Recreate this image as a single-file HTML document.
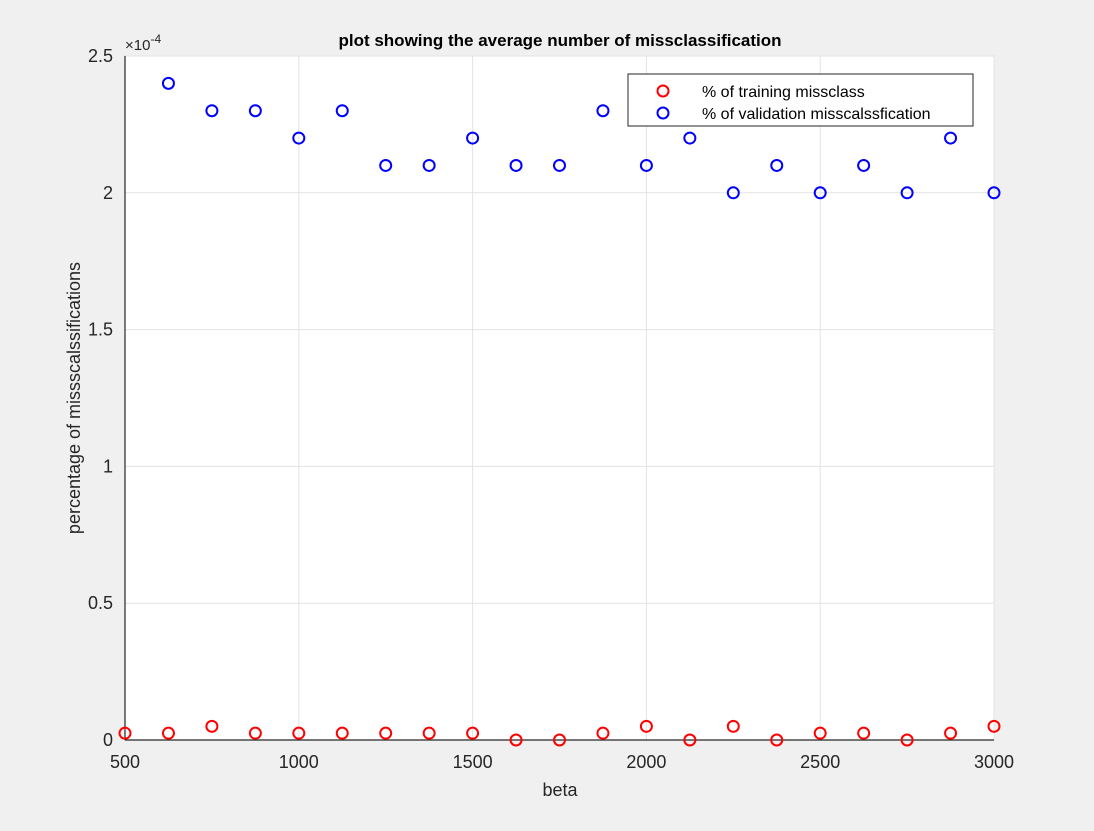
<!DOCTYPE html>
<html><head><meta charset="utf-8"><style>
body{margin:0;background:#f0f0f0;font-family:"Liberation Sans",sans-serif;}
svg text{font-family:"Liberation Sans",sans-serif;}
</style></head><body>
<svg id="chart" width="1094" height="826">
<rect x="0" y="0" width="1094" height="826" fill="#f0f0f0"/>
<rect x="125" y="56" width="869" height="684" fill="#fff" stroke="#d0d0d0" stroke-width="1"/>
<g id="grid"></g>
<line x1="125" y1="56" x2="125" y2="740" stroke="#262626" stroke-width="1.2"/>
<line x1="125" y1="740" x2="994" y2="740" stroke="#262626" stroke-width="1.2"/>
<g id="axes"></g><g id="marks"></g>
<text x="560" y="46" text-anchor="middle" font-size="17" font-weight="bold" fill="#000">plot showing the average number of missclassification</text>
<text x="560" y="796" text-anchor="middle" font-size="18" fill="#262626">beta</text>
<text transform="translate(80,398) rotate(-90)" text-anchor="middle" font-size="18" fill="#262626">percentage of missscalssifications</text>
<text x="125" y="50" font-size="15" fill="#262626">×10<tspan dy="-7" font-size="12">-4</tspan></text>
<g id="legend">
<rect x="628" y="74" width="345" height="52" fill="#fff" stroke="#262626"/>
<circle cx="663" cy="91" r="5.5" fill="none" stroke="#f00" stroke-width="2"/>
<text x="702" y="97" font-size="16" fill="#000">% of training missclass</text>
<circle cx="663" cy="113" r="5.5" fill="none" stroke="#00f" stroke-width="2"/>
<text x="702" y="119" font-size="16" fill="#000">% of validation misscalssfication</text>
</g>
</svg>
<script>
const xTicks=[500,1000,1500,2000,2500,3000];
const yTicks=[0,0.5,1,1.5,2,2.5];
const yTickLabels=["0","0.5","1","1.5","2","2.5"];
const validationX=[625,750,875,1000,1125,1250,1375,1500,1625,1750,1875,2000,2125,2250,2375,2500,2625,2750,2875,3000];
const validationY=[2.4,2.3,2.3,2.2,2.3,2.1,2.1,2.2,2.1,2.1,2.3,2.1,2.2,2.0,2.1,2.0,2.1,2.0,2.2,2.0];
const trainingX=[500,625,750,875,1000,1125,1250,1375,1500,1625,1750,1875,2000,2125,2250,2375,2500,2625,2750,2875,3000];
const trainingY=[0.025,0.025,0.05,0.025,0.025,0.025,0.025,0.025,0.025,0,0,0.025,0.05,0,0.05,0,0.025,0.025,0,0.025,0.05];
const NS="http://www.w3.org/2000/svg";
const sx=v=>125+(v-500)/2500*869;
const sy=v=>740-v/2.5*684;
const grid=document.getElementById('grid'),axes=document.getElementById('axes'),marks=document.getElementById('marks');
function mk(tag,attrs,parent){const e=document.createElementNS(NS,tag);for(const k in attrs)e.setAttribute(k,attrs[k]);parent.appendChild(e);return e;}
xTicks.forEach(t=>{
 const l=mk('line',{x1:sx(t),x2:sx(t),y1:56,y2:740,stroke:'#e3e3e3'},grid);
 
 
 const tx=mk('text',{x:sx(t),y:768,'text-anchor':'middle','font-size':18,fill:'#262626'},axes);
 tx.textContent=t;
 
 
});
yTicks.forEach((t,i)=>{
 const l=mk('line',{x1:125,x2:994,y1:sy(t),y2:sy(t),stroke:'#e3e3e3'},grid);
 
 
 const tx=mk('text',{x:113,y:sy(t)+6,'text-anchor':'end','font-size':18,fill:'#262626'},axes);
 tx.textContent=yTickLabels[i];
 
 
});
trainingX.forEach((x,i)=>{
 const c=mk('circle',{cx:sx(x),cy:sy(trainingY[i]),r:5.5,fill:'none',stroke:'#f00','stroke-width':2},marks);
 
 
});
validationX.forEach((x,i)=>{
 const c=mk('circle',{cx:sx(x),cy:sy(validationY[i]),r:5.5,fill:'none',stroke:'#00f','stroke-width':2},marks);
 
 
});
document.getElementById('chart').appendChild(document.getElementById('legend'));
</script>
</body></html>
